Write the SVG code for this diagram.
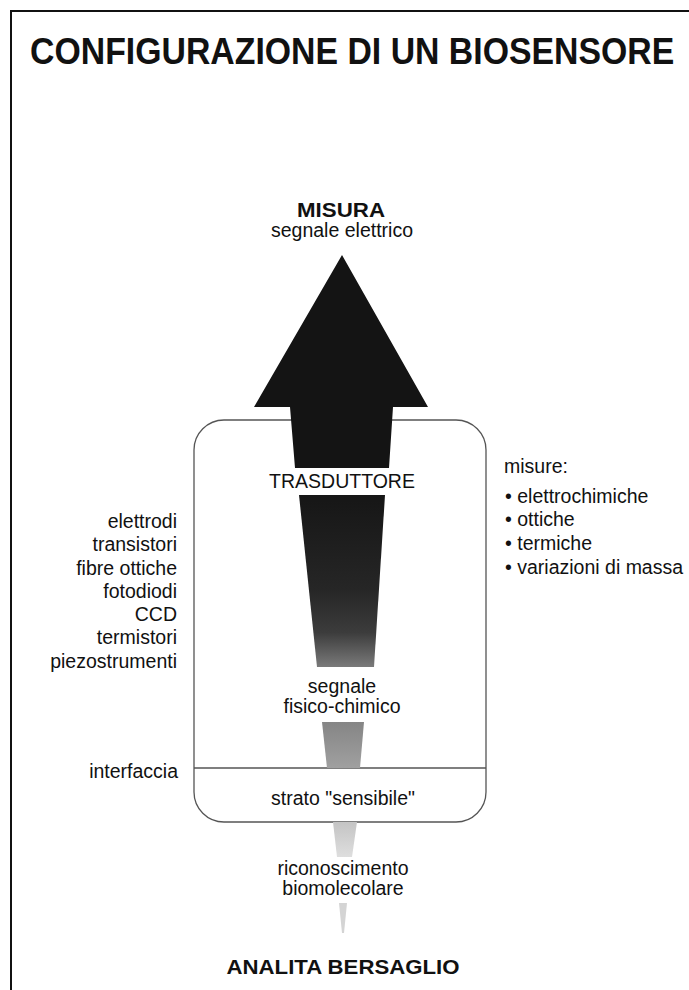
<svg xmlns="http://www.w3.org/2000/svg" width="689" height="990" viewBox="0 0 689 990">
  <style>
    text { font-family: "Liberation Sans", Arial, sans-serif; fill: #111; }
    .t { font-size: 19.5px; }
    .c { text-anchor: middle; }
    .r { text-anchor: end; }
    .b { font-weight: bold; }
    .box { fill: none; stroke: #555; stroke-width: 1.3; }
  </style>
  <defs>
    <linearGradient id="gTrans" x1="0" y1="0" x2="0" y2="1">
      <stop offset="0" stop-color="#161616"/>
      <stop offset="0.55" stop-color="#262626"/>
      <stop offset="0.8" stop-color="#3c3c3c"/>
      <stop offset="1" stop-color="#7a7a7a"/>
    </linearGradient>
    <linearGradient id="gFis" x1="0" y1="0" x2="0" y2="1">
      <stop offset="0" stop-color="#858585"/>
      <stop offset="1" stop-color="#a0a0a0"/>
    </linearGradient>
    <linearGradient id="gBio" x1="0" y1="0" x2="0" y2="1">
      <stop offset="0" stop-color="#c4c4c4"/>
      <stop offset="1" stop-color="#dedede"/>
    </linearGradient>
  </defs>

  <path d="M11,990 V11 H689" fill="none" stroke="#111" stroke-width="2"/>

  <g id="title">
    <text transform="translate(30,64) scale(0.914,1)" x="0" y="0" class="b" font-size="37">CONFIGURAZIONE DI UN BIOSENSORE</text>
  </g>

  <g id="misura">
    <text x="341" y="217" class="b c" font-size="19.5" textLength="88" lengthAdjust="spacingAndGlyphs">MISURA</text>
    <text x="342" y="237" class="t c">segnale elettrico</text>
  </g>

  <g id="biosensore">
    <rect x="194" y="420" width="292" height="402" rx="30" ry="30" class="box"/>
    <line x1="194" y1="768" x2="486" y2="768" class="box"/>
  </g>

  <g id="connectors">
    <path d="M342,255 L428,407 L393,407 L389,468 L295,468 L290,407 L254,407 Z" fill="#141414"/>
    <path d="M299,495 L385,495 L374,667 L317,667 Z" fill="url(#gTrans)"/>
    <path d="M322,722 L364,722 L360,768 L327,768 Z" fill="url(#gFis)"/>
    <path d="M333,822 L357,822 L352,857 L337,857 Z" fill="url(#gBio)"/>
    <path d="M339,903 L347,903 L344,933 L342,933 Z" fill="#d4d4d4"/>
  </g>

  <g id="trasduttore">
    <text x="342" y="488" class="t c">TRASDUTTORE</text>
  </g>

  <g id="segnale-fisico-chimico">
    <text x="342" y="693" class="t c">segnale</text>
    <text x="342" y="713" class="t c">fisico-chimico</text>
  </g>

  <g id="strato-sensibile">
    <text x="343" y="805" class="t c">strato "sensibile"</text>
  </g>

  <g id="riconoscimento">
    <text x="343" y="875" class="t c">riconoscimento</text>
    <text x="343" y="895" class="t c">biomolecolare</text>
  </g>

  <g id="analita">
    <text x="343" y="974" class="b c" font-size="19.5" textLength="233" lengthAdjust="spacingAndGlyphs">ANALITA BERSAGLIO</text>
  </g>

  <g id="trasduttori-elenco">
    <text x="177" y="528" class="t r">elettrodi</text>
    <text x="177" y="551" class="t r">transistori</text>
    <text x="177" y="575" class="t r">fibre ottiche</text>
    <text x="177" y="598" class="t r">fotodiodi</text>
    <text x="177" y="621" class="t r">CCD</text>
    <text x="177" y="644" class="t r">termistori</text>
    <text x="177" y="668" class="t r">piezostrumenti</text>
  </g>

  <g id="interfaccia">
    <text x="178" y="778" class="t r">interfaccia</text>
  </g>

  <g id="misure-elenco">
    <text x="504" y="473" class="t">misure:</text>
    <text x="505" y="503" class="t">• elettrochimiche</text>
    <text x="505" y="526" class="t">• ottiche</text>
    <text x="505" y="550" class="t">• termiche</text>
    <text x="505" y="574" class="t">• variazioni di massa</text>
  </g>
</svg>
